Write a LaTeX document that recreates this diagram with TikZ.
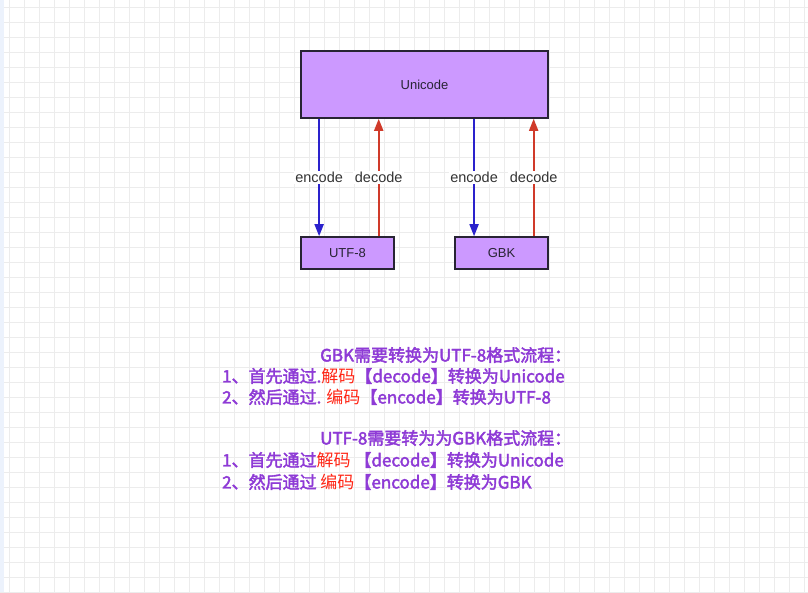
\documentclass[tikz,border=0pt]{standalone}
\usepackage{fontspec}
\newfontfamily\cjk{Noto Sans CJK SC}
\newfontfamily\cjkmed{Noto Sans CJK SC}[FakeBold=2.4]
\newfontfamily\labfont{Liberation Sans}
\usetikzlibrary{arrows.meta,calc}
\definecolor{boxfill}{RGB}{204,153,255}
\definecolor{boxline}{RGB}{40,36,52}
\definecolor{encblue}{RGB}{43,34,204}
\definecolor{decred}{RGB}{208,58,42}
\definecolor{txtpurple}{RGB}{142,58,214}
\definecolor{txtred}{RGB}{255,36,20}
\definecolor{gridgray}{RGB}{236,236,236}
\definecolor{edgeblue}{RGB}{236,242,252}
\newcommand\hl[1]{{\cjk\color{txtred}#1}}

\begin{document}
\begin{tikzpicture}[x=1pt,y=-1pt,>={Triangle[length=12pt,width=9pt]},
 box/.style={draw=boxline,fill=boxfill,line width=1.6pt,text=boxline,
   font=\labfont\fontsize{13}{15}\selectfont},
 enc/.style={->,encblue,line width=1.8pt},
 dec/.style={->,decred,line width=1.8pt},
 lbl/.style={fill=white,inner sep=1.5pt,text=black!80,
   font=\labfont\fontsize{14.5}{16}\selectfont},
 tline/.style={anchor=west,inner sep=0pt,text=txtpurple,
   font=\cjkmed\fontsize{17}{20}\selectfont},
 gridline/.style={gridgray,line width=0.7pt}]
% background
\useasboundingbox (0,0) rectangle (808,592);
\fill[white] (0,0) rectangle (808,592);
\foreach \gx in {9,24,...,808} \draw[gridline] (\gx,0) -- (\gx,592);
\foreach \gy in {7,22,...,592} \draw[gridline] (0,\gy) -- (808,\gy);
\fill[edgeblue] (0,0) rectangle (4,592);
% boxes
\node[box,minimum width=247pt,minimum height=67pt] (uni) at (424.5,84.5) {Unicode};
\node[box,minimum width=93pt,minimum height=32pt] (utf) at (347.5,253) {UTF-8};
\node[box,minimum width=93pt,minimum height=32pt] (gbk) at (501.5,253) {GBK};
% encode / decode
\coordinate (e1) at ($(utf.north west)!0.2!(utf.north east)$);
\coordinate (d1) at ($(utf.north west)!0.83!(utf.north east)$);
\coordinate (e2) at ($(gbk.north west)!0.21!(gbk.north east)$);
\coordinate (d2) at ($(gbk.north west)!0.84!(gbk.north east)$);
\draw[enc] (e1 |- uni.south) -- node[lbl]{encode} (e1);
\draw[dec] (d1) -- node[lbl]{decode} (d1 |- uni.south);
\draw[enc] (e2 |- uni.south) -- node[lbl]{encode} (e2);
\draw[dec] (d2) -- node[lbl]{decode} (d2 |- uni.south);
% notes
\node[tline] (t1) at (320,355) {GBK需要转换为UTF-8格式流程：};
\node[tline] (t2) at (222,376) {1、首先通过.\hl{解码}【decode】转换为Unicode};
\node[tline] (t3) at (222,397) {2、然后通过. \hl{编码}【encode】转换为UTF-8};
\node[tline] (t4) at (320,438) {UTF-8需要转为为GBK格式流程：};
\node[tline] (t5) at (222,460) {1、首先通过\hl{解码} 【decode】转换为Unicode};
\node[tline] (t6) at (222,482) {2、然后通过 \hl{编码}【encode】转换为GBK};
\end{tikzpicture}
\end{document}
